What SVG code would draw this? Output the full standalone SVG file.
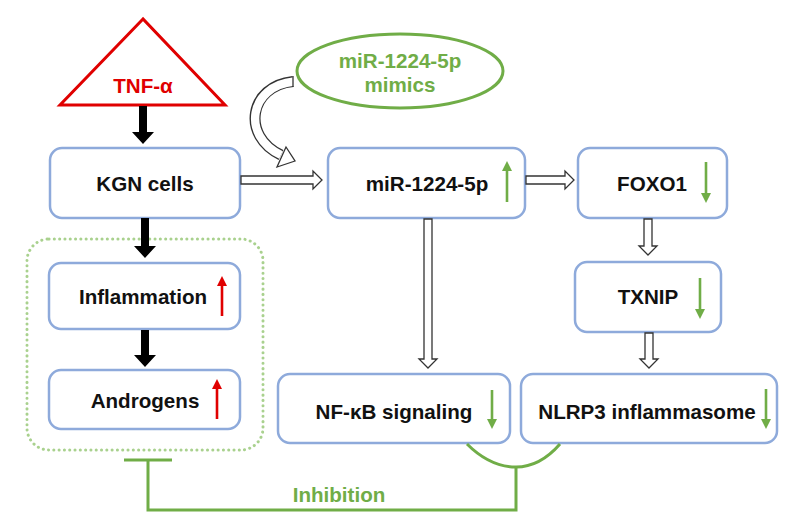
<svg xmlns="http://www.w3.org/2000/svg" width="800" height="532" viewBox="0 0 800 532">
<defs>
<style>
.box{fill:#fff;stroke:#8eaadb;stroke-width:2.5}
.t{font-family:"Liberation Sans",Arial,sans-serif;font-weight:bold;font-size:20.6px;text-anchor:middle;fill:#111}
.g{fill:#70ad47}
.r{fill:#e00000}
.hollow{fill:#fff;stroke:#333;stroke-width:1.3;stroke-linejoin:miter}
.blk{fill:#000}
.gl{stroke:#70ad47;stroke-width:2.6;fill:none}
.rl{stroke:#e00000;stroke-width:2.6;fill:none}
.inh{stroke:#70ad47;stroke-width:3;fill:none}
</style>
</defs>
<rect width="800" height="532" fill="#fff"/>

<g id="tnf">
<polygon points="143,19 60,105 225,105" fill="#fff" stroke="#e00000" stroke-width="3"/>
<text class="t" x="143" y="93" style="fill:#e00000">TNF-α</text>
</g>

<g id="mimics">
<ellipse cx="400" cy="71" rx="103" ry="37" fill="#fff" stroke="#70ad47" stroke-width="3"/>
<text class="t" x="400" y="68" style="fill:#70ad47">miR-1224-5p</text>
<text class="t" x="400" y="92" style="fill:#70ad47">mimics</text>
</g>

<g id="kgn">
<rect class="box" x="50" y="148" width="190" height="70" rx="12"/>
<text class="t" x="145" y="191">KGN cells</text>
</g>

<g id="mir">
<rect class="box" x="328" y="148" width="197" height="70" rx="12"/>
<text class="t" x="427" y="191">miR-1224-5p</text>
<line class="gl" x1="507" y1="202" x2="507" y2="170"/>
<polygon class="g" points="507,161 502,171 512,171"/>
</g>

<g id="foxo1">
<rect class="box" x="578" y="148" width="149" height="70" rx="12"/>
<text class="t" x="652" y="191">FOXO1</text>
<line class="gl" x1="706" y1="162" x2="706" y2="194"/>
<polygon class="g" points="706,203 701,193 711,193"/>
</g>

<g id="txnip">
<rect class="box" x="575" y="262" width="146" height="70" rx="12"/>
<text class="t" x="648" y="304">TXNIP</text>
<line class="gl" x1="700" y1="278" x2="700" y2="310"/>
<polygon class="g" points="700,319 695,309 705,309"/>
</g>

<g id="inflammation">
<rect class="box" x="49" y="263" width="191" height="66" rx="12"/>
<text class="t" x="143" y="304">Inflammation</text>
<line class="rl" x1="222" y1="316" x2="222" y2="285"/>
<polygon class="r" points="222,276 217,286 227,286"/>
</g>

<g id="androgens">
<rect class="box" x="49" y="370" width="191" height="59" rx="12"/>
<text class="t" x="145" y="408">Androgens</text>
<line class="rl" x1="217" y1="419" x2="217" y2="388"/>
<polygon class="r" points="217,379 212,389 222,389"/>
</g>

<g id="nfkb">
<rect class="box" x="278" y="374" width="232" height="69" rx="12"/>
<text class="t" x="394" y="419">NF-κB signaling</text>
<line class="gl" x1="492" y1="390" x2="492" y2="420"/>
<polygon class="g" points="492,429 487,419 497,419"/>
</g>

<g id="nlrp3">
<rect class="box" x="521" y="374" width="256" height="69" rx="12"/>
<text class="t" x="647" y="419">NLRP3 inflammasome</text>
<line class="gl" x1="766" y1="389" x2="766" y2="420"/>
<polygon class="g" points="766,429 761,419 771,419"/>
</g>

<g id="group-box">
<rect x="27" y="239" width="236" height="211" rx="22" fill="none" stroke="#a9d18e" stroke-width="3" stroke-dasharray="0.1 5.2" stroke-linecap="round"/>
</g>

<g id="connectors">
<polygon class="blk" points="139,106 147,106 147,132 154,132 143,144 132,132 139,132"/>
<polygon class="blk" points="141,218 149,218 149,246 156,246 145,258 134,246 141,246"/>
<polygon class="blk" points="141,330 149,330 149,355 156,355 145,367 134,355 141,355"/>
<polygon class="hollow" points="241,176 313,176 313,171 322,180 313,189 313,184 241,184"/>
<polygon class="hollow" points="526,176 565,176 565,171 574,180 565,189 565,184 526,184"/>
<polygon class="hollow" points="424,219 432,219 432,359 437,359 428,368 419,359 424,359"/>
<polygon class="hollow" points="644,219 652,219 652,246 657,246 648,255 639,246 644,246"/>
<polygon class="hollow" points="645,333 653,333 653,359 658,359 649,368 640,359 645,359"/>
<path d="M 293 81.5 C 249 86, 241 136, 281 155" fill="none" stroke="#333" stroke-width="11"/>
<path d="M 294 81.5 C 249 86, 241 136, 281 155" fill="none" stroke="#fff" stroke-width="8.4"/>
<line x1="293" y1="76" x2="293" y2="87" stroke="#333" stroke-width="1.3"/>
<polygon class="hollow" points="286,147 295,161 277,167"/>
<path class="inh" d="M 467 444 Q 490 467 516 467 Q 540 467 560 444"/>
<polyline class="inh" points="516,467 516,510 148,510 148,460"/>
<line class="inh" x1="124" y1="460" x2="172" y2="460"/>
<text class="t" x="339" y="502" style="fill:#70ad47">Inhibition</text>
</g>
</svg>
